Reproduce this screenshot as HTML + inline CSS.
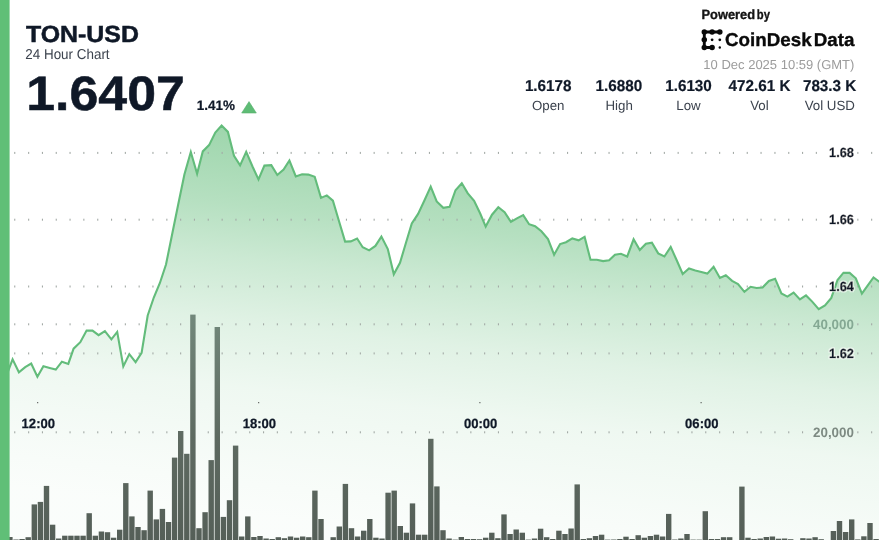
<!DOCTYPE html>
<html lang="en">
<head>
<meta charset="utf-8">
<title>TON-USD 24 Hour Chart</title>
<style>
html,body{margin:0;padding:0;background:#fff;}
body{width:879px;height:540px;overflow:hidden;position:relative;font-family:"Liberation Sans",sans-serif;}
svg{position:absolute;left:0;top:0;display:block;}
text{font-family:"Liberation Sans",sans-serif;text-rendering:geometricPrecision;}
.b{font-weight:bold;}
.navy{fill:#0f1827;}
.ax{font-size:13.3px;font-weight:bold;fill:#0f1827;text-anchor:end;stroke:#0f1827;stroke-width:0.5px;}
.vax{font-size:13.5px;font-weight:bold;fill:#8aad98;text-anchor:end;}
.xl{font-size:13.4px;font-weight:bold;fill:#0f1827;text-anchor:middle;stroke:#0f1827;stroke-width:0.25px;}
.hv{stroke:#0f1827;stroke-width:0.5px;}
.hv2{stroke-width:0.35px;}
.sv{font-size:15.8px;stroke:#0f1827;stroke-width:0.2px;font-weight:bold;fill:#0f1827;text-anchor:middle;}
.sl{font-size:13.3px;fill:#3c434e;text-anchor:middle;}
</style>
</head>
<body>
<svg width="879" height="540" viewBox="0 0 879 540">
<defs>
<linearGradient id="ga" gradientUnits="userSpaceOnUse" x1="467" y1="100" x2="416.2" y2="534.06">
<stop offset="0.0000" stop-color="#5dba75" stop-opacity="0.70"/>
<stop offset="0.1841" stop-color="#5dba75" stop-opacity="0.55"/>
<stop offset="0.3000" stop-color="#5dba75" stop-opacity="0.45"/>
<stop offset="0.4182" stop-color="#5dba75" stop-opacity="0.32"/>
<stop offset="0.5636" stop-color="#5dba75" stop-opacity="0.19"/>
<stop offset="0.7136" stop-color="#5dba75" stop-opacity="0.10"/>
<stop offset="0.8955" stop-color="#5dba75" stop-opacity="0.05"/>
<stop offset="1.0000" stop-color="#5dba75" stop-opacity="0.03"/>
</linearGradient>
<linearGradient id="gb" gradientUnits="userSpaceOnUse" x1="0" y1="315" x2="0" y2="540">
<stop offset="0" stop-color="#72887b"/>
<stop offset="0.55" stop-color="#5e6a61"/>
<stop offset="1" stop-color="#555f58"/>
</linearGradient>
<filter id="halo" x="790" y="130" width="89" height="250" filterUnits="userSpaceOnUse">
<feMorphology in="SourceAlpha" operator="dilate" radius="1.4" result="d"/>
<feGaussianBlur in="d" stdDeviation="0.5" result="bl"/>
<feFlood flood-color="#ffffff" flood-opacity="0.6"/>
<feComposite in2="bl" operator="in" result="h"/>
<feMerge><feMergeNode in="h"/><feMergeNode in="SourceGraphic"/></feMerge>
</filter>
</defs>
<rect x="0" y="0" width="879" height="540" fill="#ffffff"/>
<path d="M6.4 375.5 L12.6 359.4 L18.9 372.3 L25.2 367.1 L31.2 363.6 L37.4 376.7 L43.4 366.3 L49.7 368 L55.8 369.6 L61.9 361.7 L68.3 363.9 L73.6 348.7 L80.3 342.2 L86.6 330.6 L92.5 330.6 L98.6 335.2 L104.9 331.1 L111.4 339.3 L117.2 331.9 L123.3 366.4 L129.3 354.1 L135.6 362.1 L141.6 352.9 L147.7 315.5 L153.8 297.5 L159.9 283 L166 264.5 L172.1 234.5 L178.2 204.5 L184.4 174.5 L190.8 152 L197.1 173.8 L202.8 151.4 L209.1 145.1 L215.3 132.5 L221.6 125.6 L227.9 131.9 L234 155.8 L240.1 165.4 L246.2 151.9 L252.5 166.5 L258.5 179.5 L264.4 165.6 L271.3 165.2 L277.3 175 L283.6 169.6 L289.4 160.5 L295.8 176.5 L302.1 174.3 L308.4 174.6 L314.7 176.8 L321 197.9 L326.8 195.4 L332.9 200.7 L339.1 221.5 L345.1 241.6 L350.8 241.4 L357.1 238.5 L362.7 247.2 L369.1 250.4 L375.4 245.9 L381.4 236.6 L387.8 249 L393.8 274.3 L400 262.8 L406.2 242 L411.8 223.4 L418.1 213.9 L424.4 200.5 L430.7 186.6 L436.7 201.5 L443.3 207.8 L449.6 206.8 L455.5 190.2 L461.8 183.3 L467.8 193.3 L474.1 200.9 L480.2 213.5 L485.7 226.6 L492 214.7 L498.3 207.2 L504.6 212.2 L510.9 221.9 L516.9 218.4 L523.2 215.1 L529.1 224.2 L535.1 226.2 L541.4 231.2 L548 239 L554.1 254.7 L560.1 244.1 L566 242.2 L572.3 238.4 L578.6 240.3 L584.6 236.9 L590.5 259.8 L596.8 259.8 L603.1 261.1 L609.1 260.2 L615 254.7 L620.9 253.8 L627.2 256.5 L633.6 239.3 L639.8 250 L645.9 243.7 L651.9 242.7 L658.2 253.4 L664.4 256.5 L670.7 246.9 L676.7 260.3 L682.7 274 L689 268.5 L695.3 270.4 L701.3 271.9 L707.3 273.6 L713.6 266.7 L719.9 278 L725.8 275.2 L732.1 280.9 L738 284 L744.4 291.8 L750.6 286.8 L756.6 288 L762.6 287.5 L768.9 280.9 L775.1 278.7 L781.4 293.5 L787.4 296.6 L793.6 292.6 L799.9 299.4 L806 295.4 L812.2 301.6 L818.7 309.2 L825 305.4 L831.3 297.9 L837.5 280 L843.5 272.7 L849.6 272.9 L855.8 278.3 L861.9 293.6 L867.8 285.3 L873.5 277.5 L879.7 282 L879.7 541 L6.4 541 Z" fill="url(#ga)"/>
<g fill="#a3aaa6">
<rect x="14.2" y="151.9" width="1.1" height="2"/>
<rect x="28.1" y="151.9" width="1.1" height="2"/>
<rect x="41.9" y="151.9" width="1.1" height="2"/>
<rect x="55.7" y="151.9" width="1.1" height="2"/>
<rect x="69.5" y="151.9" width="1.1" height="2"/>
<rect x="83.3" y="151.9" width="1.1" height="2"/>
<rect x="97.2" y="151.9" width="1.1" height="2"/>
<rect x="111" y="151.9" width="1.1" height="2"/>
<rect x="124.8" y="151.9" width="1.1" height="2"/>
<rect x="138.6" y="151.9" width="1.1" height="2"/>
<rect x="152.4" y="151.9" width="1.1" height="2"/>
<rect x="166.3" y="151.9" width="1.1" height="2"/>
<rect x="180.1" y="151.9" width="1.1" height="2"/>
<rect x="193.9" y="151.9" width="1.1" height="2"/>
<rect x="207.7" y="151.9" width="1.1" height="2"/>
<rect x="221.6" y="151.9" width="1.1" height="2"/>
<rect x="235.4" y="151.9" width="1.1" height="2"/>
<rect x="249.2" y="151.9" width="1.1" height="2"/>
<rect x="263" y="151.9" width="1.1" height="2"/>
<rect x="276.8" y="151.9" width="1.1" height="2"/>
<rect x="290.6" y="151.9" width="1.1" height="2"/>
<rect x="304.5" y="151.9" width="1.1" height="2"/>
<rect x="318.3" y="151.9" width="1.1" height="2"/>
<rect x="332.1" y="151.9" width="1.1" height="2"/>
<rect x="345.9" y="151.9" width="1.1" height="2"/>
<rect x="359.8" y="151.9" width="1.1" height="2"/>
<rect x="373.6" y="151.9" width="1.1" height="2"/>
<rect x="387.4" y="151.9" width="1.1" height="2"/>
<rect x="401.2" y="151.9" width="1.1" height="2"/>
<rect x="415" y="151.9" width="1.1" height="2"/>
<rect x="428.9" y="151.9" width="1.1" height="2"/>
<rect x="442.7" y="151.9" width="1.1" height="2"/>
<rect x="456.5" y="151.9" width="1.1" height="2"/>
<rect x="470.3" y="151.9" width="1.1" height="2"/>
<rect x="484.1" y="151.9" width="1.1" height="2"/>
<rect x="497.9" y="151.9" width="1.1" height="2"/>
<rect x="511.8" y="151.9" width="1.1" height="2"/>
<rect x="525.6" y="151.9" width="1.1" height="2"/>
<rect x="539.4" y="151.9" width="1.1" height="2"/>
<rect x="553.2" y="151.9" width="1.1" height="2"/>
<rect x="567" y="151.9" width="1.1" height="2"/>
<rect x="580.9" y="151.9" width="1.1" height="2"/>
<rect x="594.7" y="151.9" width="1.1" height="2"/>
<rect x="608.5" y="151.9" width="1.1" height="2"/>
<rect x="622.3" y="151.9" width="1.1" height="2"/>
<rect x="636.1" y="151.9" width="1.1" height="2"/>
<rect x="650" y="151.9" width="1.1" height="2"/>
<rect x="663.8" y="151.9" width="1.1" height="2"/>
<rect x="677.6" y="151.9" width="1.1" height="2"/>
<rect x="691.4" y="151.9" width="1.1" height="2"/>
<rect x="705.2" y="151.9" width="1.1" height="2"/>
<rect x="719.1" y="151.9" width="1.1" height="2"/>
<rect x="732.9" y="151.9" width="1.1" height="2"/>
<rect x="746.7" y="151.9" width="1.1" height="2"/>
<rect x="760.5" y="151.9" width="1.1" height="2"/>
<rect x="774.4" y="151.9" width="1.1" height="2"/>
<rect x="788.2" y="151.9" width="1.1" height="2"/>
<rect x="802" y="151.9" width="1.1" height="2"/>
<rect x="815.8" y="151.9" width="1.1" height="2"/>
<rect x="857.3" y="151.9" width="1.1" height="2"/>
<rect x="871.1" y="151.9" width="1.1" height="2"/>
<rect x="14.2" y="218.7" width="1.1" height="2"/>
<rect x="28.1" y="218.7" width="1.1" height="2"/>
<rect x="41.9" y="218.7" width="1.1" height="2"/>
<rect x="55.7" y="218.7" width="1.1" height="2"/>
<rect x="69.5" y="218.7" width="1.1" height="2"/>
<rect x="83.3" y="218.7" width="1.1" height="2"/>
<rect x="97.2" y="218.7" width="1.1" height="2"/>
<rect x="111" y="218.7" width="1.1" height="2"/>
<rect x="124.8" y="218.7" width="1.1" height="2"/>
<rect x="138.6" y="218.7" width="1.1" height="2"/>
<rect x="152.4" y="218.7" width="1.1" height="2"/>
<rect x="166.3" y="218.7" width="1.1" height="2"/>
<rect x="180.1" y="218.7" width="1.1" height="2"/>
<rect x="193.9" y="218.7" width="1.1" height="2"/>
<rect x="207.7" y="218.7" width="1.1" height="2"/>
<rect x="221.6" y="218.7" width="1.1" height="2"/>
<rect x="235.4" y="218.7" width="1.1" height="2"/>
<rect x="249.2" y="218.7" width="1.1" height="2"/>
<rect x="263" y="218.7" width="1.1" height="2"/>
<rect x="276.8" y="218.7" width="1.1" height="2"/>
<rect x="290.6" y="218.7" width="1.1" height="2"/>
<rect x="304.5" y="218.7" width="1.1" height="2"/>
<rect x="318.3" y="218.7" width="1.1" height="2"/>
<rect x="332.1" y="218.7" width="1.1" height="2"/>
<rect x="345.9" y="218.7" width="1.1" height="2"/>
<rect x="359.8" y="218.7" width="1.1" height="2"/>
<rect x="373.6" y="218.7" width="1.1" height="2"/>
<rect x="387.4" y="218.7" width="1.1" height="2"/>
<rect x="401.2" y="218.7" width="1.1" height="2"/>
<rect x="415" y="218.7" width="1.1" height="2"/>
<rect x="428.9" y="218.7" width="1.1" height="2"/>
<rect x="442.7" y="218.7" width="1.1" height="2"/>
<rect x="456.5" y="218.7" width="1.1" height="2"/>
<rect x="470.3" y="218.7" width="1.1" height="2"/>
<rect x="484.1" y="218.7" width="1.1" height="2"/>
<rect x="497.9" y="218.7" width="1.1" height="2"/>
<rect x="511.8" y="218.7" width="1.1" height="2"/>
<rect x="525.6" y="218.7" width="1.1" height="2"/>
<rect x="539.4" y="218.7" width="1.1" height="2"/>
<rect x="553.2" y="218.7" width="1.1" height="2"/>
<rect x="567" y="218.7" width="1.1" height="2"/>
<rect x="580.9" y="218.7" width="1.1" height="2"/>
<rect x="594.7" y="218.7" width="1.1" height="2"/>
<rect x="608.5" y="218.7" width="1.1" height="2"/>
<rect x="622.3" y="218.7" width="1.1" height="2"/>
<rect x="636.1" y="218.7" width="1.1" height="2"/>
<rect x="650" y="218.7" width="1.1" height="2"/>
<rect x="663.8" y="218.7" width="1.1" height="2"/>
<rect x="677.6" y="218.7" width="1.1" height="2"/>
<rect x="691.4" y="218.7" width="1.1" height="2"/>
<rect x="705.2" y="218.7" width="1.1" height="2"/>
<rect x="719.1" y="218.7" width="1.1" height="2"/>
<rect x="732.9" y="218.7" width="1.1" height="2"/>
<rect x="746.7" y="218.7" width="1.1" height="2"/>
<rect x="760.5" y="218.7" width="1.1" height="2"/>
<rect x="774.4" y="218.7" width="1.1" height="2"/>
<rect x="788.2" y="218.7" width="1.1" height="2"/>
<rect x="802" y="218.7" width="1.1" height="2"/>
<rect x="815.8" y="218.7" width="1.1" height="2"/>
<rect x="857.3" y="218.7" width="1.1" height="2"/>
<rect x="871.1" y="218.7" width="1.1" height="2"/>
<rect x="14.2" y="285.5" width="1.1" height="2"/>
<rect x="28.1" y="285.5" width="1.1" height="2"/>
<rect x="41.9" y="285.5" width="1.1" height="2"/>
<rect x="55.7" y="285.5" width="1.1" height="2"/>
<rect x="69.5" y="285.5" width="1.1" height="2"/>
<rect x="83.3" y="285.5" width="1.1" height="2"/>
<rect x="97.2" y="285.5" width="1.1" height="2"/>
<rect x="111" y="285.5" width="1.1" height="2"/>
<rect x="124.8" y="285.5" width="1.1" height="2"/>
<rect x="138.6" y="285.5" width="1.1" height="2"/>
<rect x="152.4" y="285.5" width="1.1" height="2"/>
<rect x="166.3" y="285.5" width="1.1" height="2"/>
<rect x="180.1" y="285.5" width="1.1" height="2"/>
<rect x="193.9" y="285.5" width="1.1" height="2"/>
<rect x="207.7" y="285.5" width="1.1" height="2"/>
<rect x="221.6" y="285.5" width="1.1" height="2"/>
<rect x="235.4" y="285.5" width="1.1" height="2"/>
<rect x="249.2" y="285.5" width="1.1" height="2"/>
<rect x="263" y="285.5" width="1.1" height="2"/>
<rect x="276.8" y="285.5" width="1.1" height="2"/>
<rect x="290.6" y="285.5" width="1.1" height="2"/>
<rect x="304.5" y="285.5" width="1.1" height="2"/>
<rect x="318.3" y="285.5" width="1.1" height="2"/>
<rect x="332.1" y="285.5" width="1.1" height="2"/>
<rect x="345.9" y="285.5" width="1.1" height="2"/>
<rect x="359.8" y="285.5" width="1.1" height="2"/>
<rect x="373.6" y="285.5" width="1.1" height="2"/>
<rect x="387.4" y="285.5" width="1.1" height="2"/>
<rect x="401.2" y="285.5" width="1.1" height="2"/>
<rect x="415" y="285.5" width="1.1" height="2"/>
<rect x="428.9" y="285.5" width="1.1" height="2"/>
<rect x="442.7" y="285.5" width="1.1" height="2"/>
<rect x="456.5" y="285.5" width="1.1" height="2"/>
<rect x="470.3" y="285.5" width="1.1" height="2"/>
<rect x="484.1" y="285.5" width="1.1" height="2"/>
<rect x="497.9" y="285.5" width="1.1" height="2"/>
<rect x="511.8" y="285.5" width="1.1" height="2"/>
<rect x="525.6" y="285.5" width="1.1" height="2"/>
<rect x="539.4" y="285.5" width="1.1" height="2"/>
<rect x="553.2" y="285.5" width="1.1" height="2"/>
<rect x="567" y="285.5" width="1.1" height="2"/>
<rect x="580.9" y="285.5" width="1.1" height="2"/>
<rect x="594.7" y="285.5" width="1.1" height="2"/>
<rect x="608.5" y="285.5" width="1.1" height="2"/>
<rect x="622.3" y="285.5" width="1.1" height="2"/>
<rect x="636.1" y="285.5" width="1.1" height="2"/>
<rect x="650" y="285.5" width="1.1" height="2"/>
<rect x="663.8" y="285.5" width="1.1" height="2"/>
<rect x="677.6" y="285.5" width="1.1" height="2"/>
<rect x="691.4" y="285.5" width="1.1" height="2"/>
<rect x="705.2" y="285.5" width="1.1" height="2"/>
<rect x="719.1" y="285.5" width="1.1" height="2"/>
<rect x="732.9" y="285.5" width="1.1" height="2"/>
<rect x="746.7" y="285.5" width="1.1" height="2"/>
<rect x="760.5" y="285.5" width="1.1" height="2"/>
<rect x="774.4" y="285.5" width="1.1" height="2"/>
<rect x="788.2" y="285.5" width="1.1" height="2"/>
<rect x="802" y="285.5" width="1.1" height="2"/>
<rect x="815.8" y="285.5" width="1.1" height="2"/>
<rect x="857.3" y="285.5" width="1.1" height="2"/>
<rect x="871.1" y="285.5" width="1.1" height="2"/>
<rect x="14.2" y="352.4" width="1.1" height="2"/>
<rect x="28.1" y="352.4" width="1.1" height="2"/>
<rect x="41.9" y="352.4" width="1.1" height="2"/>
<rect x="55.7" y="352.4" width="1.1" height="2"/>
<rect x="69.5" y="352.4" width="1.1" height="2"/>
<rect x="83.3" y="352.4" width="1.1" height="2"/>
<rect x="97.2" y="352.4" width="1.1" height="2"/>
<rect x="111" y="352.4" width="1.1" height="2"/>
<rect x="124.8" y="352.4" width="1.1" height="2"/>
<rect x="138.6" y="352.4" width="1.1" height="2"/>
<rect x="152.4" y="352.4" width="1.1" height="2"/>
<rect x="166.3" y="352.4" width="1.1" height="2"/>
<rect x="180.1" y="352.4" width="1.1" height="2"/>
<rect x="193.9" y="352.4" width="1.1" height="2"/>
<rect x="207.7" y="352.4" width="1.1" height="2"/>
<rect x="221.6" y="352.4" width="1.1" height="2"/>
<rect x="235.4" y="352.4" width="1.1" height="2"/>
<rect x="249.2" y="352.4" width="1.1" height="2"/>
<rect x="263" y="352.4" width="1.1" height="2"/>
<rect x="276.8" y="352.4" width="1.1" height="2"/>
<rect x="290.6" y="352.4" width="1.1" height="2"/>
<rect x="304.5" y="352.4" width="1.1" height="2"/>
<rect x="318.3" y="352.4" width="1.1" height="2"/>
<rect x="332.1" y="352.4" width="1.1" height="2"/>
<rect x="345.9" y="352.4" width="1.1" height="2"/>
<rect x="359.8" y="352.4" width="1.1" height="2"/>
<rect x="373.6" y="352.4" width="1.1" height="2"/>
<rect x="387.4" y="352.4" width="1.1" height="2"/>
<rect x="401.2" y="352.4" width="1.1" height="2"/>
<rect x="415" y="352.4" width="1.1" height="2"/>
<rect x="428.9" y="352.4" width="1.1" height="2"/>
<rect x="442.7" y="352.4" width="1.1" height="2"/>
<rect x="456.5" y="352.4" width="1.1" height="2"/>
<rect x="470.3" y="352.4" width="1.1" height="2"/>
<rect x="484.1" y="352.4" width="1.1" height="2"/>
<rect x="497.9" y="352.4" width="1.1" height="2"/>
<rect x="511.8" y="352.4" width="1.1" height="2"/>
<rect x="525.6" y="352.4" width="1.1" height="2"/>
<rect x="539.4" y="352.4" width="1.1" height="2"/>
<rect x="553.2" y="352.4" width="1.1" height="2"/>
<rect x="567" y="352.4" width="1.1" height="2"/>
<rect x="580.9" y="352.4" width="1.1" height="2"/>
<rect x="594.7" y="352.4" width="1.1" height="2"/>
<rect x="608.5" y="352.4" width="1.1" height="2"/>
<rect x="622.3" y="352.4" width="1.1" height="2"/>
<rect x="636.1" y="352.4" width="1.1" height="2"/>
<rect x="650" y="352.4" width="1.1" height="2"/>
<rect x="663.8" y="352.4" width="1.1" height="2"/>
<rect x="677.6" y="352.4" width="1.1" height="2"/>
<rect x="691.4" y="352.4" width="1.1" height="2"/>
<rect x="705.2" y="352.4" width="1.1" height="2"/>
<rect x="719.1" y="352.4" width="1.1" height="2"/>
<rect x="732.9" y="352.4" width="1.1" height="2"/>
<rect x="746.7" y="352.4" width="1.1" height="2"/>
<rect x="760.5" y="352.4" width="1.1" height="2"/>
<rect x="774.4" y="352.4" width="1.1" height="2"/>
<rect x="788.2" y="352.4" width="1.1" height="2"/>
<rect x="802" y="352.4" width="1.1" height="2"/>
<rect x="815.8" y="352.4" width="1.1" height="2"/>
<rect x="857.3" y="352.4" width="1.1" height="2"/>
<rect x="871.1" y="352.4" width="1.1" height="2"/>
<rect x="14.2" y="323.3" width="1.1" height="2"/>
<rect x="28.1" y="323.3" width="1.1" height="2"/>
<rect x="41.9" y="323.3" width="1.1" height="2"/>
<rect x="55.7" y="323.3" width="1.1" height="2"/>
<rect x="69.5" y="323.3" width="1.1" height="2"/>
<rect x="83.3" y="323.3" width="1.1" height="2"/>
<rect x="97.2" y="323.3" width="1.1" height="2"/>
<rect x="111" y="323.3" width="1.1" height="2"/>
<rect x="124.8" y="323.3" width="1.1" height="2"/>
<rect x="138.6" y="323.3" width="1.1" height="2"/>
<rect x="152.4" y="323.3" width="1.1" height="2"/>
<rect x="166.3" y="323.3" width="1.1" height="2"/>
<rect x="180.1" y="323.3" width="1.1" height="2"/>
<rect x="193.9" y="323.3" width="1.1" height="2"/>
<rect x="207.7" y="323.3" width="1.1" height="2"/>
<rect x="221.6" y="323.3" width="1.1" height="2"/>
<rect x="235.4" y="323.3" width="1.1" height="2"/>
<rect x="249.2" y="323.3" width="1.1" height="2"/>
<rect x="263" y="323.3" width="1.1" height="2"/>
<rect x="276.8" y="323.3" width="1.1" height="2"/>
<rect x="290.6" y="323.3" width="1.1" height="2"/>
<rect x="304.5" y="323.3" width="1.1" height="2"/>
<rect x="318.3" y="323.3" width="1.1" height="2"/>
<rect x="332.1" y="323.3" width="1.1" height="2"/>
<rect x="345.9" y="323.3" width="1.1" height="2"/>
<rect x="359.8" y="323.3" width="1.1" height="2"/>
<rect x="373.6" y="323.3" width="1.1" height="2"/>
<rect x="387.4" y="323.3" width="1.1" height="2"/>
<rect x="401.2" y="323.3" width="1.1" height="2"/>
<rect x="415" y="323.3" width="1.1" height="2"/>
<rect x="428.9" y="323.3" width="1.1" height="2"/>
<rect x="442.7" y="323.3" width="1.1" height="2"/>
<rect x="456.5" y="323.3" width="1.1" height="2"/>
<rect x="470.3" y="323.3" width="1.1" height="2"/>
<rect x="484.1" y="323.3" width="1.1" height="2"/>
<rect x="497.9" y="323.3" width="1.1" height="2"/>
<rect x="511.8" y="323.3" width="1.1" height="2"/>
<rect x="525.6" y="323.3" width="1.1" height="2"/>
<rect x="539.4" y="323.3" width="1.1" height="2"/>
<rect x="553.2" y="323.3" width="1.1" height="2"/>
<rect x="567" y="323.3" width="1.1" height="2"/>
<rect x="580.9" y="323.3" width="1.1" height="2"/>
<rect x="594.7" y="323.3" width="1.1" height="2"/>
<rect x="608.5" y="323.3" width="1.1" height="2"/>
<rect x="622.3" y="323.3" width="1.1" height="2"/>
<rect x="636.1" y="323.3" width="1.1" height="2"/>
<rect x="650" y="323.3" width="1.1" height="2"/>
<rect x="663.8" y="323.3" width="1.1" height="2"/>
<rect x="677.6" y="323.3" width="1.1" height="2"/>
<rect x="691.4" y="323.3" width="1.1" height="2"/>
<rect x="705.2" y="323.3" width="1.1" height="2"/>
<rect x="719.1" y="323.3" width="1.1" height="2"/>
<rect x="732.9" y="323.3" width="1.1" height="2"/>
<rect x="746.7" y="323.3" width="1.1" height="2"/>
<rect x="760.5" y="323.3" width="1.1" height="2"/>
<rect x="774.4" y="323.3" width="1.1" height="2"/>
<rect x="788.2" y="323.3" width="1.1" height="2"/>
<rect x="802" y="323.3" width="1.1" height="2"/>
<rect x="857.3" y="323.3" width="1.1" height="2"/>
<rect x="871.1" y="323.3" width="1.1" height="2"/>
<rect x="14.2" y="431.3" width="1.1" height="2"/>
<rect x="28.1" y="431.3" width="1.1" height="2"/>
<rect x="41.9" y="431.3" width="1.1" height="2"/>
<rect x="55.7" y="431.3" width="1.1" height="2"/>
<rect x="69.5" y="431.3" width="1.1" height="2"/>
<rect x="83.3" y="431.3" width="1.1" height="2"/>
<rect x="97.2" y="431.3" width="1.1" height="2"/>
<rect x="111" y="431.3" width="1.1" height="2"/>
<rect x="124.8" y="431.3" width="1.1" height="2"/>
<rect x="138.6" y="431.3" width="1.1" height="2"/>
<rect x="152.4" y="431.3" width="1.1" height="2"/>
<rect x="166.3" y="431.3" width="1.1" height="2"/>
<rect x="180.1" y="431.3" width="1.1" height="2"/>
<rect x="193.9" y="431.3" width="1.1" height="2"/>
<rect x="207.7" y="431.3" width="1.1" height="2"/>
<rect x="221.6" y="431.3" width="1.1" height="2"/>
<rect x="235.4" y="431.3" width="1.1" height="2"/>
<rect x="249.2" y="431.3" width="1.1" height="2"/>
<rect x="263" y="431.3" width="1.1" height="2"/>
<rect x="276.8" y="431.3" width="1.1" height="2"/>
<rect x="290.6" y="431.3" width="1.1" height="2"/>
<rect x="304.5" y="431.3" width="1.1" height="2"/>
<rect x="318.3" y="431.3" width="1.1" height="2"/>
<rect x="332.1" y="431.3" width="1.1" height="2"/>
<rect x="345.9" y="431.3" width="1.1" height="2"/>
<rect x="359.8" y="431.3" width="1.1" height="2"/>
<rect x="373.6" y="431.3" width="1.1" height="2"/>
<rect x="387.4" y="431.3" width="1.1" height="2"/>
<rect x="401.2" y="431.3" width="1.1" height="2"/>
<rect x="415" y="431.3" width="1.1" height="2"/>
<rect x="428.9" y="431.3" width="1.1" height="2"/>
<rect x="442.7" y="431.3" width="1.1" height="2"/>
<rect x="456.5" y="431.3" width="1.1" height="2"/>
<rect x="470.3" y="431.3" width="1.1" height="2"/>
<rect x="484.1" y="431.3" width="1.1" height="2"/>
<rect x="497.9" y="431.3" width="1.1" height="2"/>
<rect x="511.8" y="431.3" width="1.1" height="2"/>
<rect x="525.6" y="431.3" width="1.1" height="2"/>
<rect x="539.4" y="431.3" width="1.1" height="2"/>
<rect x="553.2" y="431.3" width="1.1" height="2"/>
<rect x="567" y="431.3" width="1.1" height="2"/>
<rect x="580.9" y="431.3" width="1.1" height="2"/>
<rect x="594.7" y="431.3" width="1.1" height="2"/>
<rect x="608.5" y="431.3" width="1.1" height="2"/>
<rect x="622.3" y="431.3" width="1.1" height="2"/>
<rect x="636.1" y="431.3" width="1.1" height="2"/>
<rect x="650" y="431.3" width="1.1" height="2"/>
<rect x="663.8" y="431.3" width="1.1" height="2"/>
<rect x="677.6" y="431.3" width="1.1" height="2"/>
<rect x="691.4" y="431.3" width="1.1" height="2"/>
<rect x="705.2" y="431.3" width="1.1" height="2"/>
<rect x="719.1" y="431.3" width="1.1" height="2"/>
<rect x="732.9" y="431.3" width="1.1" height="2"/>
<rect x="746.7" y="431.3" width="1.1" height="2"/>
<rect x="760.5" y="431.3" width="1.1" height="2"/>
<rect x="774.4" y="431.3" width="1.1" height="2"/>
<rect x="788.2" y="431.3" width="1.1" height="2"/>
<rect x="802" y="431.3" width="1.1" height="2"/>
<rect x="857.3" y="431.3" width="1.1" height="2"/>
<rect x="871.1" y="431.3" width="1.1" height="2"/>
</g>
<g fill="#222" >
<rect x="37.2" y="402.2" width="1" height="1"/><rect x="258.2" y="402.2" width="1" height="1"/><rect x="479.4" y="402.2" width="1" height="1"/><rect x="700.6" y="402.2" width="1" height="1"/>
</g>
<g fill="url(#gb)">
<rect x="7.2" y="537" width="5.4" height="4"/>
<rect x="13.3" y="539.5" width="5.4" height="1.5"/>
<rect x="19.4" y="539" width="5.4" height="2"/>
<rect x="25.5" y="537.2" width="5.4" height="3.8"/>
<rect x="31.6" y="504.4" width="5.4" height="36.6"/>
<rect x="37.7" y="501.9" width="5.4" height="39.1"/>
<rect x="43.8" y="485.9" width="5.4" height="55.1"/>
<rect x="49.9" y="524.7" width="5.4" height="16.3"/>
<rect x="56" y="538.5" width="5.4" height="2.5"/>
<rect x="62.1" y="535.7" width="5.4" height="5.3"/>
<rect x="68.2" y="535.7" width="5.4" height="5.3"/>
<rect x="74.3" y="535.7" width="5.4" height="5.3"/>
<rect x="80.4" y="535.7" width="5.4" height="5.3"/>
<rect x="86.5" y="513.2" width="5.4" height="27.8"/>
<rect x="92.6" y="535.7" width="5.4" height="5.3"/>
<rect x="98.7" y="531.5" width="5.4" height="9.5"/>
<rect x="104.8" y="532.2" width="5.4" height="8.8"/>
<rect x="110.9" y="537.7" width="5.4" height="3.3"/>
<rect x="117" y="529.7" width="5.4" height="11.3"/>
<rect x="123.1" y="483.1" width="5.4" height="57.9"/>
<rect x="129.2" y="516.4" width="5.4" height="24.6"/>
<rect x="135.3" y="527" width="5.4" height="14"/>
<rect x="141.4" y="530.2" width="5.4" height="10.8"/>
<rect x="147.5" y="490.6" width="5.4" height="50.4"/>
<rect x="153.6" y="519.4" width="5.4" height="21.6"/>
<rect x="159.7" y="508.9" width="5.4" height="32.1"/>
<rect x="165.8" y="522" width="5.4" height="19"/>
<rect x="171.9" y="457.6" width="5.4" height="83.4"/>
<rect x="178" y="431" width="5.4" height="110"/>
<rect x="184.1" y="453.8" width="5.4" height="87.2"/>
<rect x="190.2" y="314.6" width="5.4" height="226.4"/>
<rect x="196.3" y="528.2" width="5.4" height="12.8"/>
<rect x="202.4" y="512.2" width="5.4" height="28.8"/>
<rect x="208.5" y="460.1" width="5.4" height="80.9"/>
<rect x="214.6" y="327" width="5.4" height="214"/>
<rect x="220.7" y="516.9" width="5.4" height="24.1"/>
<rect x="226.8" y="500.2" width="5.4" height="40.8"/>
<rect x="232.9" y="445.6" width="5.4" height="95.4"/>
<rect x="239" y="536.5" width="5.4" height="4.5"/>
<rect x="245.1" y="516.4" width="5.4" height="24.6"/>
<rect x="251.2" y="537" width="5.4" height="4"/>
<rect x="257.3" y="536" width="5.4" height="5"/>
<rect x="263.4" y="538.5" width="5.4" height="2.5"/>
<rect x="269.5" y="539" width="5.4" height="2"/>
<rect x="275.6" y="537.2" width="5.4" height="3.8"/>
<rect x="281.7" y="538.2" width="5.4" height="2.8"/>
<rect x="287.8" y="536.5" width="5.4" height="4.5"/>
<rect x="293.9" y="537.7" width="5.4" height="3.3"/>
<rect x="300" y="536.5" width="5.4" height="4.5"/>
<rect x="306.1" y="537.2" width="5.4" height="3.8"/>
<rect x="312.2" y="490.6" width="5.4" height="50.4"/>
<rect x="318.3" y="519" width="5.4" height="22"/>
<rect x="330.5" y="537.2" width="5.4" height="3.8"/>
<rect x="336.6" y="526.5" width="5.4" height="14.5"/>
<rect x="342.7" y="483.9" width="5.4" height="57.1"/>
<rect x="348.8" y="528.2" width="5.4" height="12.8"/>
<rect x="354.9" y="536.5" width="5.4" height="4.5"/>
<rect x="361" y="530.7" width="5.4" height="10.3"/>
<rect x="367.1" y="519" width="5.4" height="22"/>
<rect x="373.2" y="537.7" width="5.4" height="3.3"/>
<rect x="379.3" y="538.5" width="5.4" height="2.5"/>
<rect x="385.4" y="492.7" width="5.4" height="48.3"/>
<rect x="391.5" y="490.6" width="5.4" height="50.4"/>
<rect x="397.6" y="526" width="5.4" height="15"/>
<rect x="403.7" y="532.7" width="5.4" height="8.3"/>
<rect x="409.8" y="503.4" width="5.4" height="37.6"/>
<rect x="415.9" y="534.7" width="5.4" height="6.3"/>
<rect x="422" y="534.7" width="5.4" height="6.3"/>
<rect x="428.1" y="438.8" width="5.4" height="102.2"/>
<rect x="434.2" y="486.4" width="5.4" height="54.6"/>
<rect x="440.3" y="530.2" width="5.4" height="10.8"/>
<rect x="446.4" y="538.5" width="5.4" height="2.5"/>
<rect x="452.5" y="539.6" width="5.4" height="1.4"/>
<rect x="458.6" y="537" width="5.4" height="4"/>
<rect x="464.7" y="539" width="5.4" height="2"/>
<rect x="470.8" y="539" width="5.4" height="2"/>
<rect x="476.9" y="539.2" width="5.4" height="1.8"/>
<rect x="483" y="537.7" width="5.4" height="3.3"/>
<rect x="489.1" y="532.7" width="5.4" height="8.3"/>
<rect x="495.2" y="538.2" width="5.4" height="2.8"/>
<rect x="501.3" y="514.4" width="5.4" height="26.6"/>
<rect x="507.4" y="534" width="5.4" height="7"/>
<rect x="513.5" y="529.5" width="5.4" height="11.5"/>
<rect x="519.6" y="532.7" width="5.4" height="8.3"/>
<rect x="525.7" y="539.6" width="5.4" height="1.4"/>
<rect x="531.8" y="538.5" width="5.4" height="2.5"/>
<rect x="537.9" y="528.7" width="5.4" height="12.3"/>
<rect x="544" y="537.2" width="5.4" height="3.8"/>
<rect x="550.1" y="539" width="5.4" height="2"/>
<rect x="556.2" y="530.7" width="5.4" height="10.3"/>
<rect x="562.3" y="534" width="5.4" height="7"/>
<rect x="568.4" y="528.5" width="5.4" height="12.5"/>
<rect x="574.5" y="484.4" width="5.4" height="56.6"/>
<rect x="580.6" y="539" width="5.4" height="2"/>
<rect x="586.7" y="538.2" width="5.4" height="2.8"/>
<rect x="592.8" y="536" width="5.4" height="5"/>
<rect x="598.9" y="534.7" width="5.4" height="6.3"/>
<rect x="605" y="539.6" width="5.4" height="1.4"/>
<rect x="611.1" y="539.5" width="5.4" height="1.5"/>
<rect x="617.2" y="539" width="5.4" height="2"/>
<rect x="623.3" y="536.7" width="5.4" height="4.3"/>
<rect x="629.4" y="539" width="5.4" height="2"/>
<rect x="635.5" y="535.2" width="5.4" height="5.8"/>
<rect x="641.6" y="537.7" width="5.4" height="3.3"/>
<rect x="647.7" y="536" width="5.4" height="5"/>
<rect x="653.8" y="534.7" width="5.4" height="6.3"/>
<rect x="659.9" y="536.5" width="5.4" height="4.5"/>
<rect x="666" y="513.9" width="5.4" height="27.1"/>
<rect x="672.1" y="539.5" width="5.4" height="1.5"/>
<rect x="678.2" y="538.5" width="5.4" height="2.5"/>
<rect x="684.3" y="534" width="5.4" height="7"/>
<rect x="690.4" y="539.6" width="5.4" height="1.4"/>
<rect x="696.5" y="539.6" width="5.4" height="1.4"/>
<rect x="702.6" y="511.2" width="5.4" height="29.8"/>
<rect x="708.7" y="539" width="5.4" height="2"/>
<rect x="714.8" y="539" width="5.4" height="2"/>
<rect x="720.9" y="537.2" width="5.4" height="3.8"/>
<rect x="727" y="537.2" width="5.4" height="3.8"/>
<rect x="739.2" y="486.6" width="5.4" height="54.4"/>
<rect x="745.3" y="537.7" width="5.4" height="3.3"/>
<rect x="751.4" y="539" width="5.4" height="2"/>
<rect x="757.5" y="538.5" width="5.4" height="2.5"/>
<rect x="763.6" y="537" width="5.4" height="4"/>
<rect x="769.7" y="536.5" width="5.4" height="4.5"/>
<rect x="775.8" y="538.7" width="5.4" height="2.3"/>
<rect x="781.9" y="538.5" width="5.4" height="2.5"/>
<rect x="788" y="539.2" width="5.4" height="1.8"/>
<rect x="800.2" y="538.2" width="5.4" height="2.8"/>
<rect x="806.3" y="538.5" width="5.4" height="2.5"/>
<rect x="812.4" y="537.2" width="5.4" height="3.8"/>
<rect x="818.5" y="539.2" width="5.4" height="1.8"/>
<rect x="830.7" y="531" width="5.4" height="10"/>
<rect x="836.8" y="521" width="5.4" height="20"/>
<rect x="842.9" y="532" width="5.4" height="9"/>
<rect x="849" y="519.4" width="5.4" height="21.6"/>
<rect x="855.1" y="539.4" width="5.4" height="1.6"/>
<rect x="861.2" y="536.3" width="5.4" height="4.7"/>
<rect x="867.3" y="523" width="5.4" height="18"/>
<rect x="873.4" y="539" width="5.4" height="2"/>
</g>
<path d="M6.4 375.5 L12.6 359.4 L18.9 372.3 L25.2 367.1 L31.2 363.6 L37.4 376.7 L43.4 366.3 L49.7 368 L55.8 369.6 L61.9 361.7 L68.3 363.9 L73.6 348.7 L80.3 342.2 L86.6 330.6 L92.5 330.6 L98.6 335.2 L104.9 331.1 L111.4 339.3 L117.2 331.9 L123.3 366.4 L129.3 354.1 L135.6 362.1 L141.6 352.9 L147.7 315.5 L153.8 297.5 L159.9 283 L166 264.5 L172.1 234.5 L178.2 204.5 L184.4 174.5 L190.8 152 L197.1 173.8 L202.8 151.4 L209.1 145.1 L215.3 132.5 L221.6 125.6 L227.9 131.9 L234 155.8 L240.1 165.4 L246.2 151.9 L252.5 166.5 L258.5 179.5 L264.4 165.6 L271.3 165.2 L277.3 175 L283.6 169.6 L289.4 160.5 L295.8 176.5 L302.1 174.3 L308.4 174.6 L314.7 176.8 L321 197.9 L326.8 195.4 L332.9 200.7 L339.1 221.5 L345.1 241.6 L350.8 241.4 L357.1 238.5 L362.7 247.2 L369.1 250.4 L375.4 245.9 L381.4 236.6 L387.8 249 L393.8 274.3 L400 262.8 L406.2 242 L411.8 223.4 L418.1 213.9 L424.4 200.5 L430.7 186.6 L436.7 201.5 L443.3 207.8 L449.6 206.8 L455.5 190.2 L461.8 183.3 L467.8 193.3 L474.1 200.9 L480.2 213.5 L485.7 226.6 L492 214.7 L498.3 207.2 L504.6 212.2 L510.9 221.9 L516.9 218.4 L523.2 215.1 L529.1 224.2 L535.1 226.2 L541.4 231.2 L548 239 L554.1 254.7 L560.1 244.1 L566 242.2 L572.3 238.4 L578.6 240.3 L584.6 236.9 L590.5 259.8 L596.8 259.8 L603.1 261.1 L609.1 260.2 L615 254.7 L620.9 253.8 L627.2 256.5 L633.6 239.3 L639.8 250 L645.9 243.7 L651.9 242.7 L658.2 253.4 L664.4 256.5 L670.7 246.9 L676.7 260.3 L682.7 274 L689 268.5 L695.3 270.4 L701.3 271.9 L707.3 273.6 L713.6 266.7 L719.9 278 L725.8 275.2 L732.1 280.9 L738 284 L744.4 291.8 L750.6 286.8 L756.6 288 L762.6 287.5 L768.9 280.9 L775.1 278.7 L781.4 293.5 L787.4 296.6 L793.6 292.6 L799.9 299.4 L806 295.4 L812.2 301.6 L818.7 309.2 L825 305.4 L831.3 297.9 L837.5 280 L843.5 272.7 L849.6 272.9 L855.8 278.3 L861.9 293.6 L867.8 285.3 L873.5 277.5 L879.7 282" fill="none" stroke="#63bc7b" stroke-width="2.1" stroke-linejoin="miter" stroke-miterlimit="10"/>
<rect x="0" y="0" width="9.6" height="540" fill="#60bf77"/>

<!-- axis labels -->
<g class="ax" filter="url(#halo)">
<text transform="translate(853.9 157.3) scale(0.96 1)">1.68</text>
<text transform="translate(853.9 224.1) scale(0.96 1)">1.66</text>
<text transform="translate(853.9 291.2) scale(0.96 1)">1.64</text>
<text transform="translate(853.9 357.9) scale(0.96 1)">1.62</text>
</g>
<g class="vax">
<text transform="translate(853.9 328.7) scale(0.99 1)" fill="#84a893">40,000</text>
<text transform="translate(853.9 437.2) scale(0.99 1)" fill="#7d8a82">20,000</text>
</g>
<g class="xl">
<text transform="translate(38.3 428.4) scale(0.975 1)">12:00</text>
<text transform="translate(259.4 428.4) scale(0.975 1)">18:00</text>
<text transform="translate(480.6 428.4) scale(0.975 1)">00:00</text>
<text transform="translate(701.8 428.4) scale(0.975 1)">06:00</text>
</g>

<!-- header left -->
<text class="b navy hv" transform="translate(25.9 42.0) scale(1.17 1.17)" font-size="20" textLength="96.6" lengthAdjust="spacingAndGlyphs" style="stroke-width:0.43px">TON-USD</text>
<text x="25.3" y="59.2" font-size="14.3" fill="#3c434e" textLength="84.3" lengthAdjust="spacingAndGlyphs">24 Hour Chart</text>
<text class="b navy hv" x="26.3" y="110.4" font-size="48.3" textLength="158.5" lengthAdjust="spacingAndGlyphs">1.6407</text>
<text class="b navy" x="196.8" y="110.4" font-size="13.8" textLength="38.2" lengthAdjust="spacingAndGlyphs" stroke="#0f1827" stroke-width="0.2">1.41%</text>
<path d="M249 101.6 L256.3 113 L241.7 113 Z" fill="#5ebc75" stroke="#57b06d" stroke-width="0.6" stroke-linejoin="round"/>

<!-- header right -->
<text class="b hv2" x="701.5" y="18.6" font-size="13.3" fill="#141414" stroke="#141414" textLength="53.6" lengthAdjust="spacingAndGlyphs">Powered</text>
<text class="b hv2" x="756.8" y="18.6" font-size="13.3" fill="#141414" stroke="#141414" textLength="13.1" lengthAdjust="spacingAndGlyphs">by</text>
<g fill="#0a0a0a" stroke="none">
<circle cx="704.3" cy="32" r="2.75"/><circle cx="712.1" cy="32" r="2.75"/><circle cx="719.8" cy="32" r="2.75"/>
<circle cx="704.3" cy="39.8" r="2.75"/><circle cx="704.3" cy="47.5" r="2.75"/><circle cx="712.1" cy="47.5" r="2.75"/>
<circle cx="712.1" cy="39.8" r="1.4"/><circle cx="719.8" cy="39.8" r="1.4"/><circle cx="719.8" cy="47.5" r="1.2"/>
</g>
<path d="M719.8 32 L704.3 32 L704.3 47.5 L712.1 47.5" fill="none" stroke="#0a0a0a" stroke-width="2.9" stroke-linejoin="round"/>
<text class="b hv2" x="725.0" y="45.7" font-size="18.6" fill="#0a0a0a" stroke="#0a0a0a" textLength="129.5" lengthAdjust="spacingAndGlyphs">CoinDesk<tspan dx="-3">&#160;</tspan>Data</text>
<text x="854.4" y="69.3" font-size="13" fill="#9c9c9c" text-anchor="end">10 Dec 2025 10:59 (GMT)</text>

<text class="sv" transform="translate(548.2 90.6) scale(0.965 1)">1.6178</text>
<text class="sv" transform="translate(618.8 90.6) scale(0.965 1)">1.6880</text>
<text class="sv" transform="translate(688.5 90.6) scale(0.965 1)">1.6130</text>
<text class="sv" transform="translate(759.5 90.6) scale(0.965 1)">472.61 K</text>
<text class="sv" transform="translate(829.6 90.6) scale(0.965 1)">783.3 K</text>
<text class="sl" x="548.2" y="109.6">Open</text>
<text class="sl" x="619.2" y="109.6">High</text>
<text class="sl" x="688.5" y="109.6">Low</text>
<text class="sl" x="759.4" y="109.6">Vol</text>
<text class="sl" x="829.8" y="109.6">Vol USD</text>
</svg>
</body>
</html>
